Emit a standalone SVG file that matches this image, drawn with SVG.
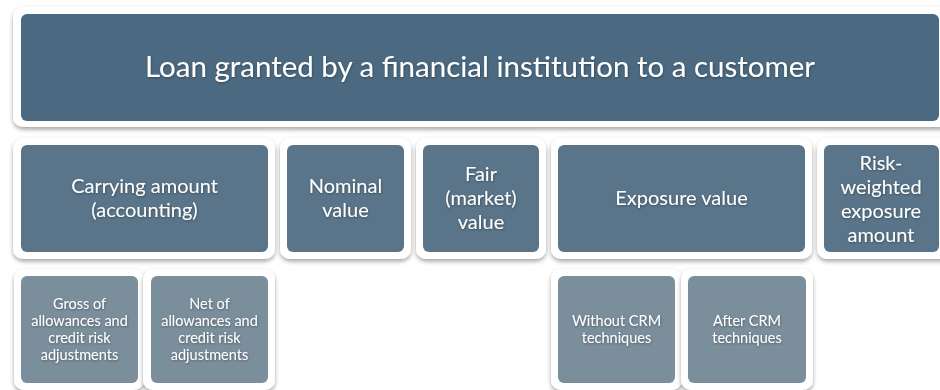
<svg xmlns="http://www.w3.org/2000/svg" width="940" height="390" viewBox="0 0 940 390">
<defs>
<filter id="sh" x="-10%" y="-10%" width="120%" height="130%">
<feDropShadow dx="0" dy="2.5" stdDeviation="2" flood-color="#000" flood-opacity="0.35"/>
</filter>
<filter id="ts" x="-10%" y="-30%" width="120%" height="160%">
<feDropShadow dx="0.5" dy="1" stdDeviation="1" flood-color="#000" flood-opacity="0.35"/>
</filter>
<style>
.frame{fill:#ffffff;filter:url(#sh)}
.top{fill:#4b6a81}
.mid{fill:#5a7589}
.low{fill:#7b8e9c}
text{font-family:Lato,"Open Sans","Liberation Sans",sans-serif;fill:#ffffff;text-anchor:middle;filter:url(#ts)}
.t1{font-size:29.5px}
.t2{font-size:20px}
.t3{font-size:14.5px}
</style>
</defs>
<g id="connectors"></g>
<g id="loan">
<rect class="frame" x="13" y="7" width="940" height="120" rx="10"/>
<rect class="top" x="21" y="14" width="918" height="107" rx="6"/>
<text class="t1" x="480" y="77">Loan granted by a financial institution to a customer</text>
</g>
<g id="carrying">
<rect class="frame" x="13" y="138" width="262" height="121" rx="10"/>
<rect class="mid" x="21" y="145" width="247" height="107" rx="6"/>
<text class="t2" x="144.5" y="193">Carrying amount</text>
<text class="t2" x="144.5" y="217">(accounting)</text>
</g>
<g id="nominal">
<rect class="frame" x="280" y="138" width="131" height="121" rx="10"/>
<rect class="mid" x="287" y="145" width="117" height="107" rx="6"/>
<text class="t2" x="345.5" y="193">Nominal</text>
<text class="t2" x="345.5" y="217">value</text>
</g>
<g id="fair">
<rect class="frame" x="416" y="138" width="130" height="121" rx="10"/>
<rect class="mid" x="423" y="145" width="116" height="107" rx="6"/>
<text class="t2" x="481" y="181">Fair</text>
<text class="t2" x="481" y="205">(market)</text>
<text class="t2" x="481" y="229">value</text>
</g>
<g id="exposure">
<rect class="frame" x="551" y="138" width="261" height="121" rx="10"/>
<rect class="mid" x="558" y="145" width="247" height="107" rx="6"/>
<text class="t2" x="681.5" y="205">Exposure value</text>
</g>
<g id="rwea">
<rect class="frame" x="817" y="138" width="136" height="121" rx="10"/>
<rect class="mid" x="824" y="145" width="115" height="107" rx="6"/>
<text class="t2" x="881" y="169.5">Risk-</text>
<text class="t2" x="881" y="193.5">weighted</text>
<text class="t2" x="881" y="217.5">exposure</text>
<text class="t2" x="881" y="241.5">amount</text>
</g>
<g id="gross">
<rect class="frame" x="14" y="269" width="130" height="121" rx="10"/>
<rect class="low" x="21" y="276" width="117" height="107" rx="6"/>
<text class="t3" x="79.5" y="308.5">Gross of</text>
<text class="t3" x="79.5" y="325.8">allowances and</text>
<text class="t3" x="79.5" y="343.1">credit risk</text>
<text class="t3" x="79.5" y="360.4">adjustments</text>
</g>
<g id="net">
<rect class="frame" x="143" y="269" width="132" height="121" rx="10"/>
<rect class="low" x="151" y="276" width="117" height="107" rx="6"/>
<text class="t3" x="209.5" y="308.5">Net of</text>
<text class="t3" x="209.5" y="325.8">allowances and</text>
<text class="t3" x="209.5" y="343.1">credit risk</text>
<text class="t3" x="209.5" y="360.4">adjustments</text>
</g>
<g id="without">
<rect class="frame" x="551" y="269" width="131" height="121" rx="10"/>
<rect class="low" x="558" y="276" width="117" height="107" rx="6"/>
<text class="t3" x="616.5" y="326">Without CRM</text>
<text class="t3" x="616.5" y="343">techniques</text>
</g>
<g id="after">
<rect class="frame" x="681" y="269" width="132" height="121" rx="10"/>
<rect class="low" x="688" y="276" width="118" height="107" rx="6"/>
<text class="t3" x="747" y="326">After CRM</text>
<text class="t3" x="747" y="343">techniques</text>
</g>
</svg>
